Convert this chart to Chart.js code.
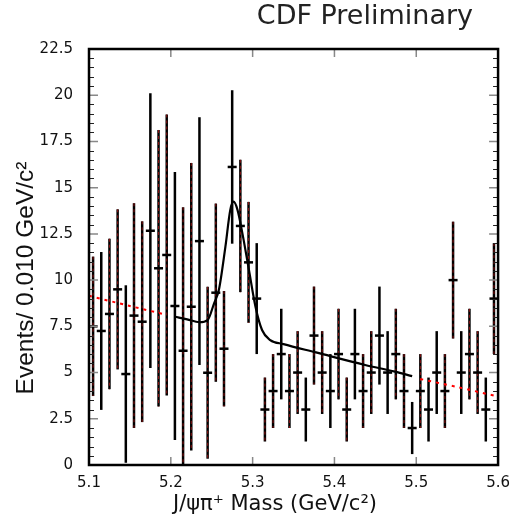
<!DOCTYPE html>
<html>
<head>
<meta charset="utf-8">
<script src="https://cdn.jsdelivr.net/npm/chart.js@4/dist/chart.umd.min.js"></script>
<style>
  body { margin: 0; background: #fff; }
</style>
</head>
<body>
<canvas id="massChart" width="519" height="521"></canvas>
<script>
// bin centres (GeV/c^2), 0.010 wide
const binCenters = [
  5.105, 5.115, 5.125, 5.135, 5.145, 5.155, 5.165, 5.175, 5.185, 5.195,
  5.205, 5.215, 5.225, 5.235, 5.245, 5.255, 5.265, 5.275, 5.285, 5.295,
  5.305, 5.315, 5.325, 5.335, 5.345, 5.355, 5.365, 5.375, 5.385, 5.395,
  5.405, 5.415, 5.425, 5.435, 5.445, 5.455, 5.465, 5.475, 5.485, 5.495,
  5.505, 5.515, 5.525, 5.535, 5.545, 5.555, 5.565, 5.575, 5.585, 5.595,
];
const events = [
  7.5, 7.25, 8.17, 9.5, 4.92, 8.08, 7.75, 12.67, 10.64, 11.36,
  8.6, 6.18, 8.56, 12.11, 4.99, 9.32, 6.29, 16.12, 12.93, 10.96,
  9, 3, 4, 6, 4, 5, 3, 7, 5, 4,
  6, 3, 6, 4, 5, 7, 5, 6, 4, 2,
  4, 3, 5, 4, 10, 5, 6, 5, 3, 9,
];
const errors = [
  3.77, 4.27, 4.07, 4.33, 4.8, 6.08, 5.43, 7.43, 7.48, 7.6,
  7.25, 7.76, 7.78, 6.7, 4.65, 4.82, 3.12, 4.15, 3.58, 3.27,
  3, 1.73, 2, 2.45, 2, 2.24, 1.73, 2.65, 2.24, 2,
  2.45, 1.73, 2.45, 2, 2.24, 2.65, 2.24, 2.45, 2, 1.41,
  2, 1.73, 2.24, 2, 3.16, 2.24, 2.45, 2.24, 1.73, 3,
];
// bins where the second (red dashed) histogram lies on top
const redOverlay = [
  1, 0, 1, 1, 0, 1, 1, 0, 1, 1,
  0, 1, 1, 0, 1, 1, 1, 0, 1, 1,
  0, 1, 1, 0, 1, 1, 0, 1, 1, 0,
  1, 1, 0, 1, 1, 0, 0, 1, 1, 0,
  1, 0, 0, 1, 1, 0, 1, 1, 0, 1,
];

// fit curve (signal + background)
const fitMass = [5.205, 5.22, 5.235, 5.245, 5.253, 5.2587, 5.2667, 5.2727, 5.2767, 5.2815,
  5.2875, 5.2955, 5.3035, 5.3115, 5.3215, 5.3377, 5.3774, 5.4375, 5.474, 5.495];
const fitEvents = [8.02, 7.88, 7.72, 7.84, 8.76, 9.46, 11.8, 13.8, 14.24, 13.8,
  12.53, 10.55, 8.56, 7.3, 6.76, 6.54, 6.09, 5.41, 5.05, 4.81];
// background extrapolation (red dashed)
const bkgLeftMass = [5.1, 5.15, 5.195];
const bkgLeftEvents = [9.15, 8.6, 8.12];
const bkgRightMass = [5.505, 5.55, 5.6];
const bkgRightEvents = [4.65, 4.22, 3.7];

const xTicks = [5.1, 5.2, 5.3, 5.4, 5.5, 5.6];
const yTicks = [0, 2.5, 5, 7.5, 10, 12.5, 15, 17.5, 20, 22.5];

const toXY = (xs, ys) => xs.map((x, i) => ({ x: x, y: ys[i] }));

// error bars + frame + inward ticks + titles
const histoPlugin = {
  id: "histo",
  beforeDatasetsDraw(chart) {
    const { ctx, chartArea, scales } = chart;
    ctx.save();
    ctx.beginPath();
    ctx.rect(chartArea.left, chartArea.top, chartArea.right - chartArea.left, chartArea.bottom - chartArea.top);
    ctx.clip();
    binCenters.forEach((m, i) => {
      const px = scales.x.getPixelForValue(m);
      const yTop = scales.y.getPixelForValue(events[i] + errors[i]);
      const yBot = scales.y.getPixelForValue(Math.max(0, events[i] - errors[i]));
      ctx.setLineDash([]);
      ctx.strokeStyle = "#000";
      ctx.lineWidth = 2.5;
      ctx.beginPath();
      ctx.moveTo(px, yTop);
      ctx.lineTo(px, yBot);
      ctx.stroke();
      if (redOverlay[i]) {
        ctx.strokeStyle = "#8a1010";
        ctx.lineWidth = 1;
        ctx.setLineDash([3, 3]);
        ctx.beginPath();
        ctx.moveTo(px, yTop);
        ctx.lineTo(px, yBot);
        ctx.stroke();
      }
    });
    ctx.restore();
  },
  afterDraw(chart) {
    const { ctx, chartArea: a, scales } = chart;
    ctx.save();
    ctx.setLineDash([]);
    // minor y ticks every 0.5
    ctx.strokeStyle = "#222";
    ctx.lineWidth = 1;
    for (let v = 0.5; v < 22.5; v += 0.5) {
      if (Math.abs(v / 2.5 - Math.round(v / 2.5)) < 1e-6) continue;
      const py = Math.round(scales.y.getPixelForValue(v)) + 0.5;
      ctx.beginPath();
      ctx.moveTo(a.left, py); ctx.lineTo(a.left + 5, py);
      ctx.moveTo(a.right, py); ctx.lineTo(a.right - 5, py);
      ctx.stroke();
    }
    // major ticks (grey)
    ctx.strokeStyle = "#888";
    ctx.lineWidth = 1.5;
    yTicks.forEach((v) => {
      const py = scales.y.getPixelForValue(v);
      ctx.beginPath();
      ctx.moveTo(a.left, py); ctx.lineTo(a.left + 9, py);
      ctx.moveTo(a.right, py); ctx.lineTo(a.right - 9, py);
      ctx.stroke();
    });
    xTicks.forEach((v) => {
      const px = scales.x.getPixelForValue(v);
      ctx.beginPath();
      ctx.moveTo(px, a.bottom); ctx.lineTo(px, a.bottom - 8);
      ctx.moveTo(px, a.top); ctx.lineTo(px, a.top + 8);
      ctx.stroke();
    });
    // frame
    ctx.strokeStyle = "#000";
    ctx.lineWidth = 2.5;
    ctx.strokeRect(a.left, a.top, a.right - a.left, a.bottom - a.top);

    // titles
    ctx.fillStyle = "#222";
    ctx.font = "27px 'DejaVu Sans'";
    ctx.textAlign = "right";
    ctx.textBaseline = "middle";
    ctx.fillText("CDF Preliminary", 473, 17);

    ctx.fillStyle = "#111";
    ctx.font = "21px 'DejaVu Sans'";
    ctx.textAlign = "center";
    ctx.fillText("J/\u03C8\u03C0\u207A Mass (GeV/c\u00B2)", 275, 505);

    ctx.translate(26, 278);
    ctx.rotate(-Math.PI / 2);
    ctx.font = "24.5px 'Liberation Sans'";
    ctx.fillText("Events/ 0.010 GeV/c\u00B2", 0, 0);
    ctx.restore();
  },
};

const ctxMass = document.getElementById("massChart").getContext("2d");

const massChart = new Chart(ctxMass, {
  type: "scatter",
  data: {
    datasets: [
      {
        type: "line",
        data: toXY(bkgLeftMass, bkgLeftEvents),
        borderColor: "#ff0000",
        borderWidth: 2,
        borderDash: [3, 5],
        pointRadius: 0,
        tension: 0.3,
      },
      {
        type: "line",
        data: toXY(bkgRightMass, bkgRightEvents),
        borderColor: "#ff0000",
        borderWidth: 2,
        borderDash: [3, 5],
        pointRadius: 0,
        tension: 0.3,
      },
      {
        type: "line",
        data: toXY(fitMass, fitEvents),
        borderColor: "#000",
        borderWidth: 2.2,
        pointRadius: 0,
        tension: 0.4,
        cubicInterpolationMode: "monotone",
      },
      {
        data: toXY(binCenters, events),
        pointStyle: "line",
        pointRadius: 4.5,
        borderColor: "#000",
        borderWidth: 2.5,
        pointHoverRadius: 4.5,
      },
    ],
  },
  options: {
    responsive: false,
    animation: false,
    devicePixelRatio: 1,
    layout: { padding: { top: 49, right: 14, left: 0, bottom: 0 } },
    plugins: {
      legend: { display: false },
      tooltip: { enabled: false },
    },
    scales: {
      x: {
        type: "linear",
        min: 5.1,
        max: 5.6,
        grid: { display: false, drawTicks: false },
        border: { display: false },
        afterBuildTicks: (scale) => { scale.ticks = xTicks.map((v) => ({ value: v })); },
        afterFit: (scale) => { scale.height = 56; },
        ticks: {
          autoSkip: false,
          maxRotation: 0,
          padding: 9,
          color: "#111",
          font: { family: "DejaVu Sans", size: 15 },
          callback: (value) => value.toFixed(1),
        },
      },
      y: {
        min: 0,
        max: 22.5,
        grid: { display: false, drawTicks: false },
        border: { display: false },
        afterBuildTicks: (scale) => { scale.ticks = yTicks.map((v) => ({ value: v })); },
        afterFit: (scale) => { scale.width = 89; },
        ticks: {
          autoSkip: false,
          padding: 16,
          color: "#111",
          font: { family: "DejaVu Sans", size: 15 },
          callback: (value) => `${value}`,
        },
      },
    },
  },
  plugins: [histoPlugin],
});
</script>
</body>
</html>
